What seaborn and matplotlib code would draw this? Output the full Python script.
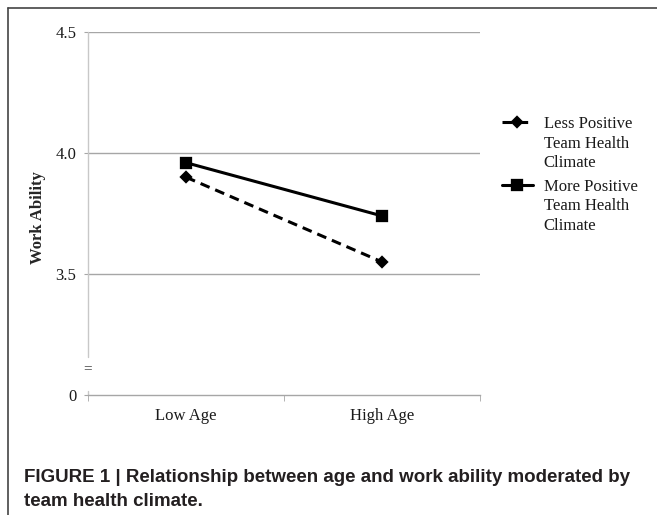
import pandas as pd
import seaborn as sns
import matplotlib.pyplot as plt
from matplotlib.lines import Line2D

# ------------------------------------------------------------
# Dati
# ------------------------------------------------------------
eta = ["Low Age", "High Age"]
gruppi = ["Less Positive\nTeam Health\nClimate", "More Positive\nTeam Health\nClimate"]
meno_positivo = [3.90, 3.55]
piu_positivo = [3.96, 3.74]

y_ticks = [3.0, 3.5, 4.0, 4.5]
y_tick_labels = ["0", "3.5", "4.0", "4.5"]

df = pd.DataFrame({
    "Age": eta * 2,
    "Group": [gruppi[0]] * 2 + [gruppi[1]] * 2,
    "WorkAbility": meno_positivo + piu_positivo,
})

sns.set_style("white")
plt.rcParams["font.family"] = ["Liberation Serif", "DejaVu Serif"]

fig = plt.figure(figsize=(6.57, 5.15), dpi=100)
ax = fig.add_axes([88 / 657, 1 - 395 / 515, 392 / 657, 363 / 515])

sns.pointplot(
    data=df, x="Age", y="WorkAbility", hue="Group",
    order=eta, hue_order=gruppi,
    palette={gruppi[0]: "black", gruppi[1]: "black"},
    markers=["D", "s"], linestyles=["--", "-"],
    errorbar=None, dodge=False, legend=False,
    linewidth=2.2, ax=ax,
)

ax.lines[0].set_markersize(5.5)
ax.lines[1].set_markersize(7)
for ln in ax.lines[:2]:
    ln.set_markeredgecolor("black")
ax.lines[0].set_dashes((3.2, 2.0))

# Assi e griglia
ax.set_xlim(-0.5, 1.5)
ax.set_ylim(3.0, 4.5)
ax.set_yticks(y_ticks)
ax.set_yticklabels(y_tick_labels)
ax.set_xticks([0, 1])
ax.set_xticklabels(eta)
ax.set_xticks([-0.5, 0.5, 1.5], minor=True)
ax.set_xlabel("")

grigio = "#a6a6a6"
ax.grid(False)
for v in y_ticks[1:]:
    ax.axhline(v, color=grigio, lw=1.0, zorder=0)

for s in ["top", "right", "left"]:
    ax.spines[s].set_visible(False)
ax.spines["bottom"].set_color(grigio)
ax.spines["bottom"].set_linewidth(1.0)

# asse verticale spezzato
ax.axvline(-0.5, ymin=0.105, ymax=1.0, color="#c8c8c8", lw=1.0, clip_on=False)
ax.axvline(-0.5, ymin=0.0, ymax=0.012, color="#c8c8c8", lw=1.0, clip_on=False)
ax.text(-0.5, 0.072, "=", transform=ax.get_xaxis_transform(), ha="center",
        va="center", fontsize=11, color="#444444")

ax.tick_params(axis="y", which="major", length=3, color=grigio, pad=5.5,
               labelsize=12, labelcolor="#1a1a1a", left=True)
ax.tick_params(axis="x", which="major", length=0, pad=9, labelsize=12,
               labelcolor="#1a1a1a")
ax.tick_params(axis="x", which="minor", length=4, color=grigio, direction="out",
               bottom=True)

ax.set_ylabel("Work Ability", fontsize=12, fontweight="bold")
ax.yaxis.label.set_va("center")
ax.yaxis.set_label_coords(-0.128, 0.49)

# Legenda
leg = ax.legend(
    handles=ax.lines[:2], labels=gruppi, frameon=False, fontsize=12,
    loc="upper left", bbox_to_anchor=(502 / 657, 1 - 116 / 515),
    bbox_transform=fig.transFigure, borderpad=0, borderaxespad=0,
    handlelength=1.85, handletextpad=0.65, labelspacing=0.45,
)
for t in leg.get_texts():
    t.set_linespacing(1.3)
    t.set_color("#1a1a1a")
for col in leg._legend_handle_box.get_children():
    for item in col.get_children():
        item.align = "top"

# Cornice e didascalia
fig.add_artist(Line2D([8 / 657, 8 / 657], [0, 1 - 8 / 515],
                      transform=fig.transFigure, color="#444444", lw=1.2))
fig.add_artist(Line2D([8 / 657, 1], [1 - 8 / 515, 1 - 8 / 515],
                      transform=fig.transFigure, color="#444444", lw=1.2))

caption_kw = dict(family=["Liberation Sans", "DejaVu Sans"], fontsize=13.5,
                  fontweight="bold", color="#231f20", ha="left", va="baseline")
fig.text(24 / 657, 1 - 481.5 / 515,
         "FIGURE 1 | Relationship between age and work ability moderated by",
         **caption_kw)
fig.text(24 / 657, 1 - 506.5 / 515, "team health climate.", **caption_kw)

plt.savefig("out.png", dpi=100)
